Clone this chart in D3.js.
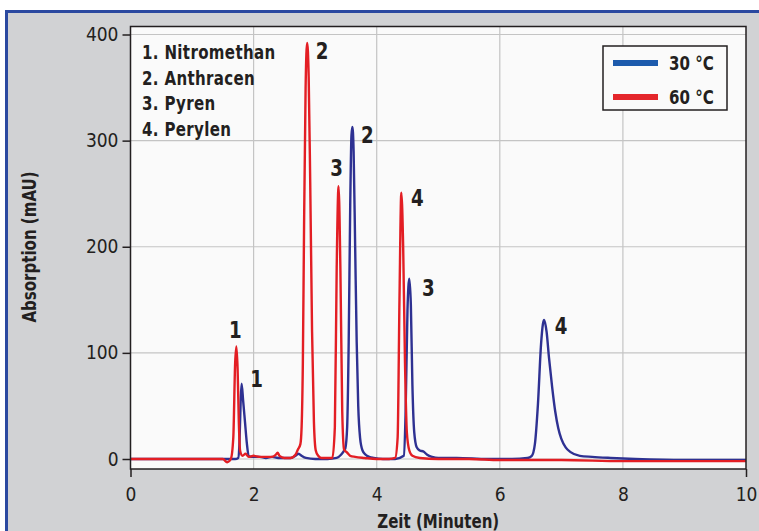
<!DOCTYPE html>
<html>
<head>
<meta charset="utf-8">
<script src="https://cdn.jsdelivr.net/npm/d3@7"></script>
<style>
  body { margin: 0; background: #ffffff; }
  svg text { font-family: "Liberation Sans Narrow", "DejaVu Sans Condensed", "Arial Narrow", sans-serif; fill: #231f20; }
</style>
</head>
<body>
<svg id="chart" width="759" height="531"></svg>
<script>
// ---- data ----
const xTicks = [0, 2, 4, 6, 8, 10];
const yTicks = [0, 100, 200, 300, 400];
const seriesNames = ["30 °C", "60 °C"];
const compounds = ["1. Nitromethan", "2. Anthracen", "3. Pyren", "4. Perylen"];

// 30 °C trace (time in min, absorption in mAU)
const time30 = [0, 0.5, 1.0, 1.5, 1.7, 1.75, 1.77, 1.79, 1.805, 1.83, 1.86, 1.89, 1.92, 1.96, 2.0, 2.1, 2.2, 2.3, 2.4, 2.5, 2.6, 2.68, 2.73, 2.78, 2.85, 3.0, 3.2, 3.35, 3.42, 3.46, 3.49, 3.52, 3.545, 3.57, 3.59, 3.605, 3.625, 3.65, 3.675, 3.70, 3.73, 3.77, 3.82, 3.88, 3.95, 4.1, 4.3, 4.44, 4.47, 4.50, 4.53, 4.555, 4.58, 4.61, 4.65, 4.70, 4.76, 4.82, 4.9, 5.0, 5.3, 5.8, 6.2, 6.45, 6.52, 6.57, 6.62, 6.67, 6.70, 6.72, 6.76, 6.80, 6.85, 6.90, 6.95, 7.00, 7.07, 7.15, 7.3, 7.5, 7.8, 8.2, 9.0, 10.0];
const abs30 = [0, 0, 0, 0, 0, 1, 15, 55, 71, 55, 35, 15, 3, 2, 2, 2, 1, 2, 1, 1, 1, 3, 5, 3, 1, 0, 0, 1, 4, 7, 10, 30, 110, 240, 305, 313, 290, 200, 110, 50, 20, 8, 4, 2, 1, 0, 0, 3, 45, 140, 170, 145, 70, 25, 11, 8, 7, 4, 2, 1, 1, 0, 0, 1, 3, 14, 52, 108, 127, 131, 120, 95, 68, 45, 29, 19, 11, 6.5, 3, 2, 1, 0, -1, -1];

// 60 °C trace
const time60 = [0, 0.5, 1.0, 1.5, 1.57, 1.63, 1.67, 1.70, 1.72, 1.74, 1.76, 1.78, 1.82, 1.87, 1.92, 2.0, 2.1, 2.2, 2.3, 2.36, 2.39, 2.42, 2.5, 2.6, 2.68, 2.72, 2.76, 2.78, 2.80, 2.82, 2.845, 2.87, 2.895, 2.92, 2.95, 2.98, 3.01, 3.05, 3.1, 3.2, 3.28, 3.32, 3.35, 3.38, 3.41, 3.44, 3.47, 3.52, 3.57, 3.65, 3.8, 4.0, 4.2, 4.3, 4.34, 4.37, 4.40, 4.43, 4.46, 4.49, 4.53, 4.58, 4.7, 5.0, 5.5, 6.0, 7.0, 8.0, 9.0, 10.0];
const abs60 = [0, 0, 0, 0, -3, 0, 20, 90, 106, 85, 35, 8, 3, 5, 2, 3, 2, 2, 2, 4, 6, 3, 1, 1, 4, 9, 14, 30, 90, 220, 350, 392, 360, 260, 120, 35, 8, 3, 1, 1, 1, 30, 180, 257, 180, 45, 9, 6, 3, 2, 1, 0, 0, 1, 20, 150, 251, 200, 90, 25, 8, 3, 1, 0, 0, -1, -1, -2, -2, -2];

// peak apexes that carry a number label
const peaks30 = [{ n: "1", t: 1.805, v: 71 }, { n: "2", t: 3.605, v: 313 }, { n: "3", t: 4.53, v: 170 }, { n: "4", t: 6.72, v: 131 }];
const peaks60 = [{ n: "1", t: 1.72, v: 106 }, { n: "2", t: 2.87, v: 392 }, { n: "3", t: 3.38, v: 257 }, { n: "4", t: 4.40, v: 251 }];

// ---- layout ----
const svg = d3.select("#chart");
const plotLeft = 130.5, plotRight = 746, plotTop = 26.5, plotBottom = 469;
const blueCurve = "#2e3192", redCurve = "#e31e24";
const legendColors = ["#1c5aac", "#e4262b"];
const squeeze = 0.88; // the original lettering is a narrow face

const x = d3.scaleLinear().domain([0, 10]).range([plotLeft, plotRight]);
const y = d3.scaleLinear().domain([0, 400]).range([459, 34.5]);

// outer panel with blue frame
svg.append("rect")
   .attr("x", 6.5).attr("y", 11.5).attr("width", 800).attr("height", 600)
   .attr("fill", "#d1d2d4").attr("stroke", "#2b49a0").attr("stroke-width", 3);

// plot area
svg.append("rect")
   .attr("x", plotLeft).attr("y", plotTop).attr("width", plotRight - plotLeft).attr("height", plotBottom - plotTop)
   .attr("fill", "#fafafa");

// gridlines
svg.append("g").selectAll("line").data(xTicks.slice(1, -1)).join("line")
   .attr("x1", d => x(d)).attr("x2", d => x(d)).attr("y1", plotTop).attr("y2", plotBottom)
   .attr("stroke", "#c4c4c4").attr("stroke-width", 1.2);
svg.append("g").selectAll("line").data(yTicks).join("line")
   .attr("x1", plotLeft).attr("x2", plotRight).attr("y1", d => y(d)).attr("y2", d => y(d))
   .attr("stroke", "#c4c4c4").attr("stroke-width", 1.2);

// traces
const line = d3.line().x(d => x(d[0])).y(d => y(d[1])).curve(d3.curveMonotoneX);
svg.append("path").datum(d3.zip(time30, abs30)).attr("d", line)
   .attr("fill", "none").attr("stroke", blueCurve).attr("stroke-width", 2.4).attr("stroke-linejoin", "round");
svg.append("path").datum(d3.zip(time60, abs60)).attr("d", line)
   .attr("fill", "none").attr("stroke", redCurve).attr("stroke-width", 2.4).attr("stroke-linejoin", "round");

// frame
svg.append("rect")
   .attr("x", plotLeft).attr("y", plotTop).attr("width", plotRight - plotLeft).attr("height", plotBottom - plotTop)
   .attr("fill", "none").attr("stroke", "#231f20").attr("stroke-width", 1.5);

// axes
const yAxis = svg.append("g").attr("transform", `translate(${plotLeft},0)`)
   .call(d3.axisLeft(y).tickValues(yTicks).tickSize(8).tickPadding(4));
const xAxis = svg.append("g").attr("transform", `translate(0,${plotBottom})`)
   .call(d3.axisBottom(x).tickValues(xTicks).tickSize(8).tickPadding(11));
xAxis.selectAll(".tick line").attr("opacity", d => (d === 0 || d === 10) ? 1 : 0);
[yAxis, xAxis].forEach(a => {
  a.select(".domain").remove();
  a.selectAll(".tick line").attr("stroke", "#231f20").attr("stroke-width", 1.5);
  a.selectAll(".tick text").attr("font-size", 19).attr("fill", "#231f20")
   .attr("font-family", "Liberation Sans Narrow, DejaVu Sans Condensed, sans-serif");
});

// axis titles
svg.append("text").attr("transform", `translate(${(plotLeft + plotRight) / 2},528) scale(${squeeze},1)`)
   .attr("text-anchor", "middle").attr("font-size", 19).attr("font-weight", "bold")
   .text("Zeit (Minuten)");
svg.append("text").attr("transform", `translate(36,247) rotate(-90) scale(${squeeze},1)`)
   .attr("text-anchor", "middle").attr("font-size", 19).attr("font-weight", "bold")
   .text("Absorption (mAU)");

// compound list
svg.append("g").selectAll("text").data(compounds).join("text")
   .attr("transform", (d, i) => `translate(142,${59 + i * 25.7}) scale(${squeeze},1)`)
   .attr("font-size", 19).attr("font-weight", "bold").attr("letter-spacing", 0.4)
   .text(d => d);

// peak numbers
const labelOffset30 = { "1": [15, 3], "2": [15, 16], "3": [19, 17], "4": [17, 14] };
const labelOffset60 = { "1": [-1, -9], "2": [15, 16], "3": [-2, -10], "4": [16, 13] };
svg.append("g").selectAll("text").data(peaks30).join("text")
   .attr("transform", d => `translate(${x(d.t) + labelOffset30[d.n][0]},${y(d.v) + labelOffset30[d.n][1]}) scale(${squeeze},1)`)
   .attr("text-anchor", "middle").attr("font-size", 23).attr("font-weight", "bold")
   .text(d => d.n);
svg.append("g").selectAll("text").data(peaks60).join("text")
   .attr("transform", d => `translate(${x(d.t) + labelOffset60[d.n][0]},${y(d.v) + labelOffset60[d.n][1]}) scale(${squeeze},1)`)
   .attr("text-anchor", "middle").attr("font-size", 23).attr("font-weight", "bold")
   .text(d => d.n);

// legend
const legend = svg.append("g");
legend.append("rect").attr("x", 603).attr("y", 46).attr("width", 124).attr("height", 64)
   .attr("fill", "#fafafa").attr("stroke", "#231f20").attr("stroke-width", 1.5);
seriesNames.forEach((name, i) => {
  legend.append("line").attr("x1", 613).attr("x2", 658).attr("y1", 63 + i * 34).attr("y2", 63 + i * 34)
     .attr("stroke", legendColors[i]).attr("stroke-width", 6);
  legend.append("text").attr("transform", `translate(669,${69.5 + i * 34}) scale(${squeeze},1)`)
     .attr("font-size", 19).attr("font-weight", "bold").text(name);
});
</script>
</body>
</html>
